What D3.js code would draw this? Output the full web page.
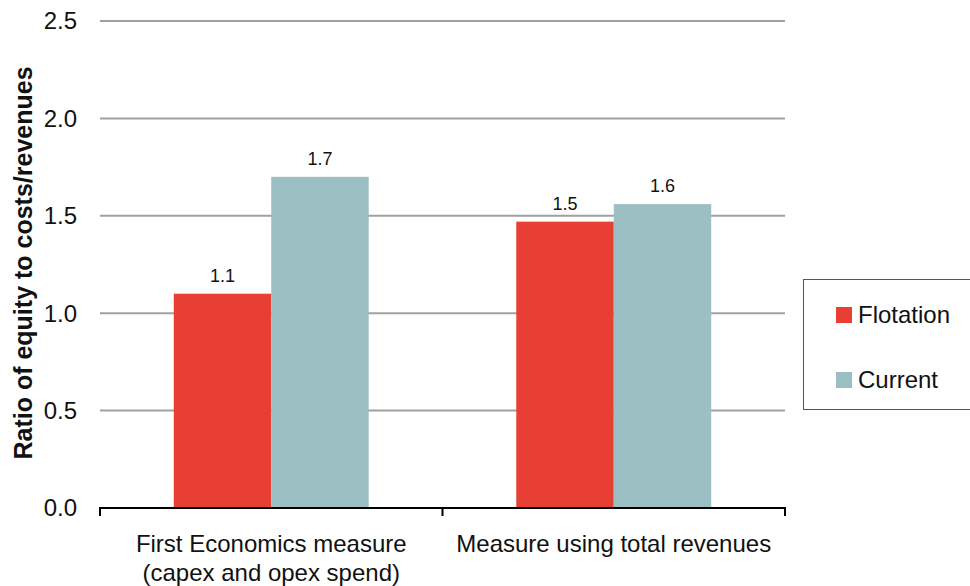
<!DOCTYPE html>
<html>
<head>
<meta charset="utf-8">
<script src="https://cdn.jsdelivr.net/npm/d3@7"></script>
<style>
  body { margin: 0; background: #fff; }
  svg { display: block; font-family: "Liberation Sans", Arial, sans-serif; }
</style>
</head>
<body>
<script>
// chart data
const categories = ["First Economics measure\n(capex and opex spend)", "Measure using total revenues"];
const seriesNames = ["Flotation", "Current"];
const flotation = [1.1, 1.47];
const current = [1.7, 1.56];
const valueLabels = [["1.1", "1.7"], ["1.5", "1.6"]];
const yTicks = [0, 0.5, 1.0, 1.5, 2.0, 2.5];
const colors = ["#e83f34", "#9bbfc2"];

const width = 970, height = 586;
const plotLeft = 100, plotRight = 785, plotTop = 21, plotBottom = 508;

const svg = d3.select("body").append("svg")
  .attr("width", width)
  .attr("height", height);

const x = d3.scaleBand().domain(categories).range([plotLeft, plotRight]).paddingInner(0).paddingOuter(0);
const inner = d3.scaleBand().domain(seriesNames).range([0, x.bandwidth()]).paddingInner(0).paddingOuter(0.757);
const y = d3.scaleLinear().domain([0, 2.5]).range([plotBottom, plotTop]);

// gridlines
svg.append("g")
  .selectAll("line")
  .data(yTicks.slice(1))
  .join("line")
  .attr("x1", plotLeft).attr("x2", plotRight)
  .attr("y1", d => y(d)).attr("y2", d => y(d))
  .attr("stroke", "#a0a0a0")
  .attr("stroke-width", 2);

// y tick labels
svg.append("g")
  .selectAll("text")
  .data(yTicks)
  .join("text")
  .attr("x", 77)
  .attr("y", d => y(d))
  .attr("dy", "0.35em")
  .attr("text-anchor", "end")
  .style("font-size", "24px")
  .attr("fill", "#111")
  .text(d => d.toFixed(1));

// bars
const rows = categories.map((c, i) => ({ cat: c, vals: [flotation[i], current[i]], labels: valueLabels[i] }));
const groups = svg.append("g")
  .selectAll("g")
  .data(rows)
  .join("g")
  .attr("transform", d => `translate(${x(d.cat)},0)`);

groups.selectAll("rect")
  .data(d => d.vals.map((v, j) => ({ name: seriesNames[j], v, j })))
  .join("rect")
  .attr("x", d => inner(d.name))
  .attr("width", inner.bandwidth())
  .attr("y", d => y(d.v))
  .attr("height", d => y(0) - y(d.v))
  .attr("fill", d => colors[d.j]);

groups.selectAll("text")
  .data(d => d.vals.map((v, j) => ({ name: seriesNames[j], v, label: d.labels[j] })))
  .join("text")
  .attr("x", d => inner(d.name) + inner.bandwidth() / 2)
  .attr("y", d => y(d.v) - 12)
  .attr("text-anchor", "middle")
  .style("font-size", "18px")
  .attr("fill", "#111")
  .text(d => d.label);

// x axis
const xAxis = svg.append("g").attr("transform", `translate(0,${plotBottom})`);
xAxis.append("line")
  .attr("x1", plotLeft).attr("x2", plotRight)
  .attr("stroke", "#000").attr("stroke-width", 2);
const tickXs = [plotLeft, ...categories.map(c => x(c) + x.bandwidth())];
xAxis.selectAll(".tick")
  .data(tickXs)
  .join("line")
  .attr("x1", d => d).attr("x2", d => d)
  .attr("y1", -1).attr("y2", 8)
  .attr("stroke", "#000").attr("stroke-width", 2);

xAxis.selectAll(".cat")
  .data(categories)
  .join("text")
  .attr("text-anchor", "middle")
  .style("font-size", "24px")
  .attr("fill", "#111")
  .each(function(d) {
    const t = d3.select(this);
    d.split("\n").forEach((line, k) => {
      t.append("tspan")
        .attr("x", x(d) + x.bandwidth() / 2)
        .attr("y", 44 + k * 29)
        .text(line);
    });
  });

// y axis title
svg.append("text")
  .attr("transform", "translate(32,263) rotate(-90)")
  .attr("text-anchor", "middle")
  .style("font-size", "25px")
  .style("font-weight", "bold")
  .attr("fill", "#111")
  .text("Ratio of equity to costs/revenues");

// legend
const legend = svg.append("g").attr("transform", "translate(803,279)");
legend.append("rect")
  .attr("x", 0.5).attr("y", 0.5)
  .attr("width", 170).attr("height", 130)
  .attr("fill", "#fff")
  .attr("stroke", "#555").attr("stroke-width", 1);
const items = legend.selectAll(".item")
  .data(seriesNames)
  .join("g")
  .attr("transform", (d, i) => `translate(33,${28 + i * 65})`);
items.append("rect")
  .attr("width", 16).attr("height", 16)
  .attr("fill", (d, i) => colors[i]);
items.append("text")
  .attr("x", 22).attr("y", 8)
  .attr("dy", "0.35em")
  .style("font-size", "24px")
  .attr("fill", "#111")
  .text(d => d);
</script>
</body>
</html>
